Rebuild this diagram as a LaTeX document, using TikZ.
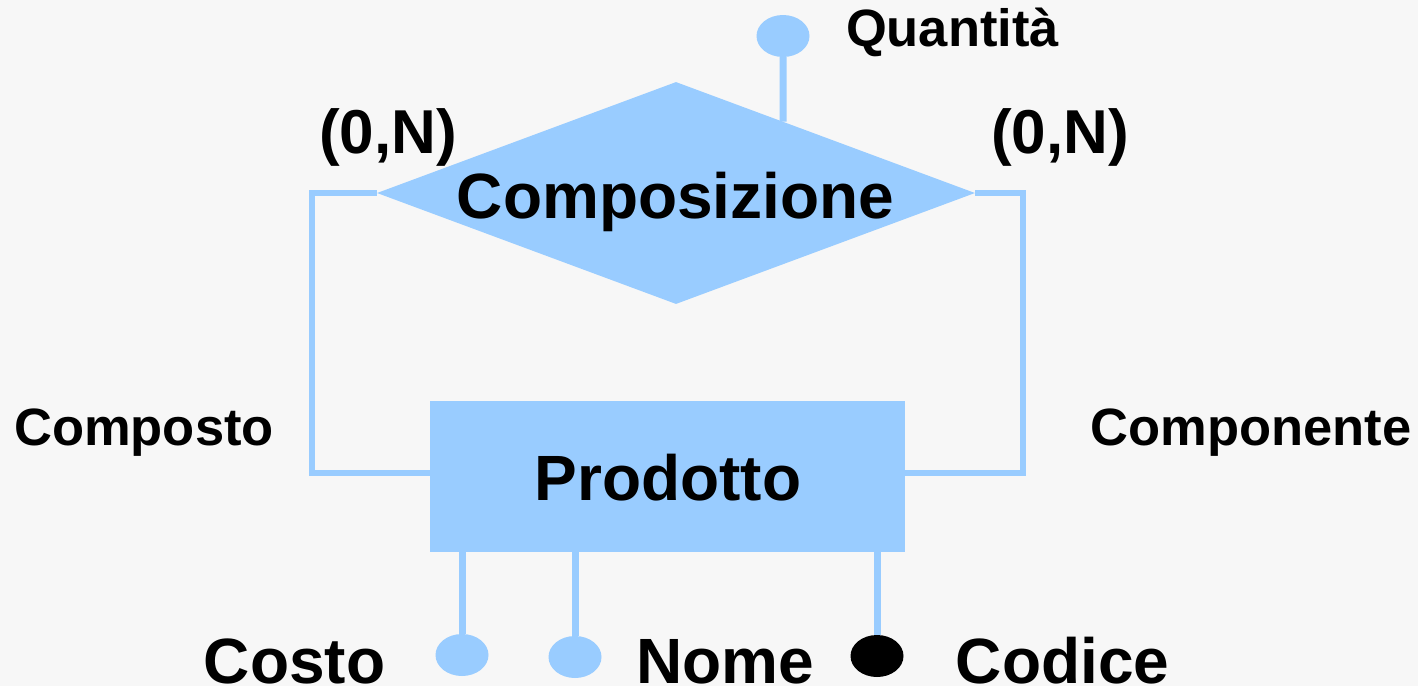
\documentclass[tikz,border=0pt]{standalone}
\usepackage{fontspec}
\setmainfont{Liberation Sans}
\usetikzlibrary{shapes.geometric,calc}
\definecolor{erblue}{HTML}{99CCFF}
\definecolor{paper}{HTML}{F7F7F7}
\tikzset{
  link/.style={draw=erblue, line width=5.5pt},
  attrlink/.style={draw=erblue, line width=7pt},
  attr/.style={ellipse, fill=erblue, minimum width=53pt, minimum height=42pt, inner sep=0pt},
  keyattr/.style={attr, fill=black},
  big/.style={font=\bfseries\fontsize{64}{64}\selectfont, anchor=base, inner sep=0pt},
  card/.style={font=\bfseries\fontsize{62}{62}\selectfont, anchor=base, inner sep=0pt},
  small/.style={font=\bfseries\fontsize{52.5}{52.5}\selectfont, anchor=base, inner sep=0pt},
}
\begin{document}
\begin{tikzpicture}[x=1pt,y=-1pt]
\fill[paper] (0,0) rectangle (1418,686);
\useasboundingbox (0,0) rectangle (1418,686);

% relationship and entity
\node[diamond, fill=erblue, minimum width=598pt, minimum height=222pt, inner sep=0pt] (rel) at (676,193) {};
\node[rectangle, fill=erblue, minimum width=475pt, minimum height=151pt, inner sep=0pt] (ent) at (667.5,476.5) {};

% roles of the recursive relationship
\draw[link] (rel.west) -- ++(-65,0) |- ([yshift=3.5pt]ent.west);
\draw[link] (rel.east) -- ++(48,0) |- ([yshift=3.5pt]ent.east);

% attributes
\node[attr] (qta) at (783,36) {};
\coordinate (qtafoot) at ($(rel.north)!0.358!(rel.east)$);
\draw[attrlink] (qta.south) -- (qtafoot);

\node[attr] (costo) at (462,655) {};
\node[attr] (nome) at (575,657) {};
\node[keyattr] (codice) at (877,656) {};
\draw[attrlink] (ent.south -| costo) -- (costo.north);
\draw[attrlink] (ent.south -| nome) -- (nome.north);
\draw[attrlink] (ent.south -| codice) -- (codice.north);

% labels
\node[big] (lrel) at (675.5,218) {Composizione};
\node[big] (lent) at (668,500) {Prodotto};
\node[card] (cl) at (388,153) {(0,N)};
\node[card] (cr) at (1060,153) {(0,N)};
\node[small] (lq) at (952.5,46) {Quantità};
\node[small] (lcomposto) at (144,445) {Composto};
\node[small] (lcomponente) at (1251,445) {Componente};
\node[big] (lcosto) at (294.5,683) {Costo};
\node[big] (lnome) at (725,683) {Nome};
\node[big] (lcodice) at (1062.5,683) {Codice};
\end{tikzpicture}
\end{document}
